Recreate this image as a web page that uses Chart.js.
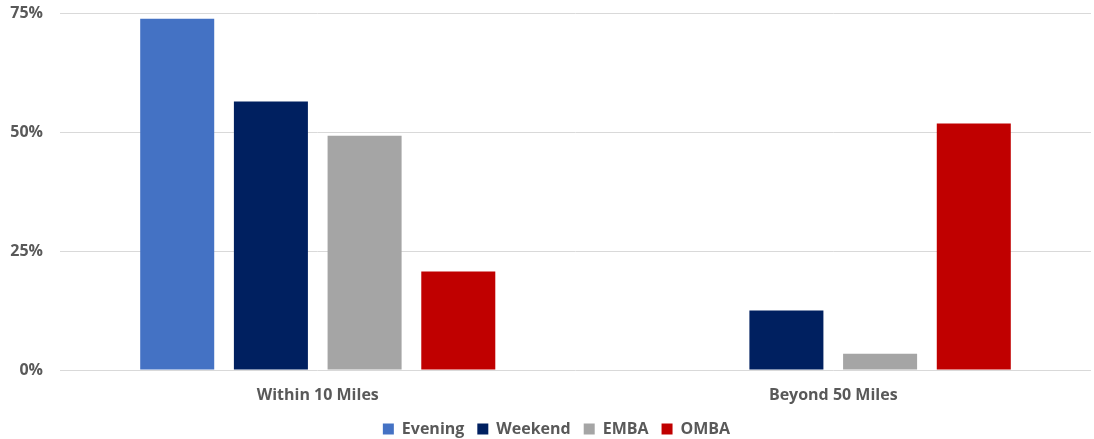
<!DOCTYPE html>
<html>
<head>
<meta charset="utf-8">
<script src="https://cdn.jsdelivr.net/npm/chart.js@4"></script>
<style>
  html, body { margin: 0; background: #fff; overflow: hidden; }
  #wrap { width: 1094px; height: 447px; }
</style>
</head>
<body>
<div id="wrap"><canvas id="chart"></canvas></div>
<script>
const categories = ['Within 10 Miles', 'Beyond 50 Miles'];
const evening = [73.8, 0];
const weekend = [56.4, 12.5];
const emba = [49.2, 3.4];
const omba = [20.7, 51.8];
const yTicks = [0, 25, 50, 75];

const textColor = '#595959';
const font = { family: 'Open Sans', size: 16, weight: 'bold' };

const chartData = {
    labels: categories,
    datasets: [
        { label: 'Evening', data: evening, backgroundColor: '#4472C4' },
        { label: 'Weekend', data: weekend, backgroundColor: '#002060' },
        { label: 'EMBA', data: emba, backgroundColor: '#A5A5A5' },
        { label: 'OMBA', data: omba, backgroundColor: '#C00000' }
    ]
};

// the legend sits centred under the plot area, not the whole canvas
const shiftLegend = {
    id: 'shiftLegend',
    afterLayout(chart) {
        chart.legend.left += 11;
        chart.legend.right += 11;
    }
};

new Chart(document.getElementById('chart').getContext('2d'), {
    type: 'bar',
    data: chartData,
    plugins: [shiftLegend],
    options: {
        responsive: true,
        maintainAspectRatio: false,
        animation: false,
        categoryPercentage: 0.727,
        barPercentage: 0.79,
        layout: { padding: { top: 0, right: 3, bottom: 0 } },
        scales: {
            x: {
                grid: { display: false },
                border: { display: false },
                afterFit: axis => { axis.height = 38; },
                ticks: { color: textColor, font: font, padding: 8 }
            },
            y: {
                min: 0,
                max: 75,
                afterBuildTicks: axis => { axis.ticks = yTicks.map(v => ({ value: v })); },
                afterFit: axis => {
                    axis.width = 60;
                    axis.paddingTop = 13;
                    axis.paddingBottom = 0;
                },
                grid: { color: '#d9d9d9', lineWidth: 1, drawTicks: false },
                border: { display: false },
                ticks: {
                    color: textColor,
                    font: font,
                    padding: 17,
                    callback: v => v + '%'
                }
            }
        },
        plugins: {
            legend: {
                position: 'bottom',
                labels: {
                    color: textColor,
                    font: font,
                    boxWidth: 11,
                    boxHeight: 11,
                    padding: 13
                }
            },
            tooltip: { enabled: false }
        }
    }
});
</script>
</body>
</html>
